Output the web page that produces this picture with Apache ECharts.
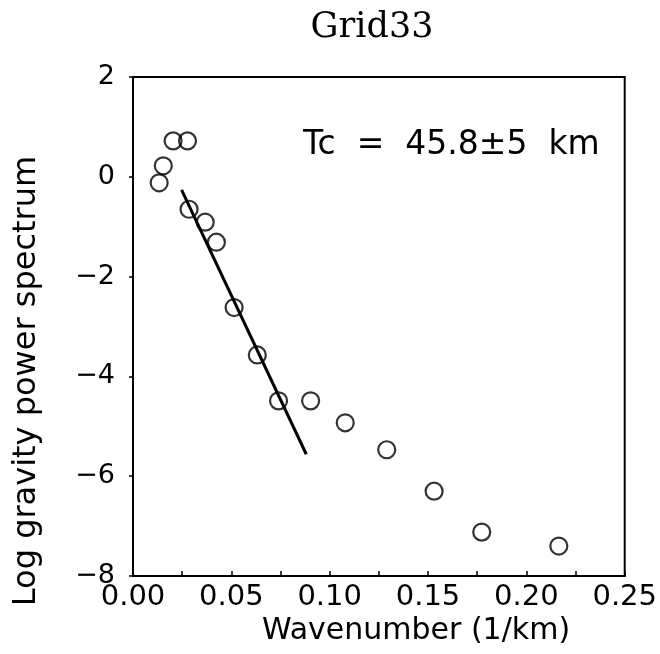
<!DOCTYPE html>
<html>
<head>
<meta charset="utf-8">
<script src="https://cdn.jsdelivr.net/npm/echarts@6/dist/echarts.min.js"></script>
<style>html,body{margin:0;padding:0;background:#fff}#c{width:660px;height:654px}</style>
</head>
<body>
<div id="c"></div>
<script>
var titleText = 'Grid33';
var xName = 'Wavenumber (1/km)';
var yName = 'Log gravity power spectrum';
var annotation = 'Tc  =  45.8\u00b15  km';
var wavenumber = [0.0133, 0.0154, 0.0204, 0.0277, 0.0285, 0.0367, 0.0424, 0.0514, 0.0632, 0.0740, 0.0903, 0.1079, 0.1290, 0.1531, 0.1773, 0.2165];
var logPower   = [-0.12, 0.22, 0.72, 0.72, -0.65, -0.91, -1.31, -2.62, -3.57, -4.49, -4.49, -4.93, -5.47, -6.30, -7.12, -7.40];
var fitX = [0.0247, 0.0881];
var fitY = [-0.26, -5.56];
var xTicks = [0.00, 0.05, 0.10, 0.15, 0.20, 0.25];
var yTicks = [-8, -6, -4, -2, 0, 2];

var chart = echarts.init(document.getElementById('c'), null, {renderer: 'canvas'});
var pts = wavenumber.map(function (x, i) { return [x, logPower[i]]; });
var fit = fitX.map(function (x, i) { return [x, fitY[i]]; });
var sans = '"DejaVu Sans", sans-serif';

chart.setOption({
  backgroundColor: '#fff',
  animation: false,
  title: {
    text: titleText,
    left: 367, top: 5, textAlign: 'center',
    textStyle: {fontFamily: '"DejaVu Serif", serif', fontWeight: 'normal', fontSize: 35, color: '#000'}
  },
  grid: {left: 133, right: 34, top: 77, bottom: 78, show: true, borderColor: '#000', borderWidth: 2, backgroundColor: 'transparent'},
  xAxis: {
    type: 'value', min: xTicks[0], max: xTicks[xTicks.length - 1], interval: 0.05,
    axisLine: {show: true, onZero: false, lineStyle: {color: '#000', width: 2}},
    axisTick: {show: true, inside: true, length: 5, lineStyle: {color: '#000', width: 1.5}},
    minorTick: {show: true, splitNumber: 2, length: 5, lineStyle: {color: '#000', width: 1.5}},
    splitLine: {show: false},
    axisLabel: {margin: 7, fontFamily: sans, fontSize: 29, color: '#000',
      formatter: function (v) { return v.toFixed(2); }}
  },
  yAxis: {
    type: 'value', min: yTicks[0], max: yTicks[yTicks.length - 1], interval: 2,
    axisLine: {show: true, onZero: false, lineStyle: {color: '#000', width: 2}},
    axisTick: {show: true, inside: false, length: 4, lineStyle: {color: '#000', width: 1.5}},
    splitLine: {show: false},
    axisLabel: {margin: 18, fontFamily: sans, fontSize: 27, color: '#000',
      formatter: function (v) { return v < 0 ? '\u2212' + Math.abs(v) : String(v); }}
  },
  graphic: [
    {type: 'text', left: 303, top: 129, style: {text: annotation, font: '33px "DejaVu Sans", sans-serif', fill: '#000'}},
    {type: 'text', x: 416, y: 631, style: {text: xName, font: '30px "DejaVu Sans", sans-serif', fill: '#000', align: 'center', verticalAlign: 'middle'}},
    {type: 'text', x: 27, y: 381, rotation: Math.PI / 2, style: {text: yName, font: '32px "DejaVu Sans", sans-serif', fill: '#000', align: 'center', verticalAlign: 'middle'}}
  ],
  series: [
    {type: 'line', data: fit, showSymbol: false, symbol: 'none', lineStyle: {color: '#000', width: 3}, z: 3},
    {type: 'scatter', data: pts, symbol: 'circle', symbolSize: 17,
      itemStyle: {color: 'transparent', borderColor: '#000', borderWidth: 2.2}, z: 4}
  ]
});
</script>
</body>
</html>
